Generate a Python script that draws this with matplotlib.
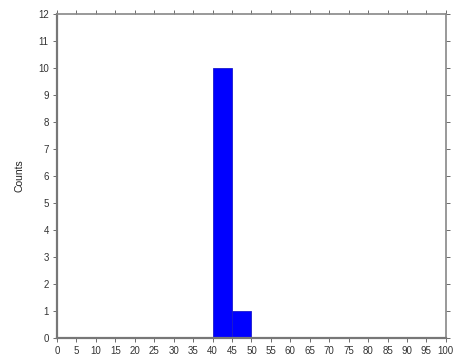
import matplotlib
matplotlib.use("Agg")
import matplotlib.pyplot as plt
import numpy as np

plt.rcParams['font.family'] = ['Liberation Sans', 'DejaVu Sans']

# Histogram bins (width 5) and the counts in each
bin_edges = list(range(0, 105, 5))
counts = [0, 0, 0, 0, 0, 0, 0, 0, 10, 1, 0, 0, 0, 0, 0, 0, 0, 0, 0, 0]
x_ticks = list(range(0, 105, 5))
y_ticks = list(range(0, 13))

fig = plt.figure(figsize=(4.58, 3.61), dpi=100)
ax = fig.add_axes([0.1245, 0.064, 0.849, 0.897])

lefts = np.array(bin_edges[:-1])
widths = np.diff(bin_edges)
nz = np.array(counts) > 0
ax.bar(lefts[nz], np.array(counts)[nz], width=widths[nz], align='edge',
       color='#0000ff', edgecolor='#1a1acc', linewidth=0.6)

ax.set_xlim(0, 100)
ax.set_ylim(0, 12)
ax.set_xticks(x_ticks)
ax.set_yticks(y_ticks)
ax.tick_params(axis='both', labelsize=7, length=3, width=0.6,
               color='#555555', labelcolor='#333333', direction='out', pad=3)
ax.tick_params(top=True, right=True)
ax.set_ylabel('Counts', fontsize=7.5, color='#222222', labelpad=10)

for side in ['left', 'bottom']:
    ax.spines[side].set_linewidth(1.6)
    ax.spines[side].set_color('#777777')
for side in ['top', 'right']:
    ax.spines[side].set_linewidth(1.2)
    ax.spines[side].set_color('#888888')

fig.savefig('out.png', dpi=100)
